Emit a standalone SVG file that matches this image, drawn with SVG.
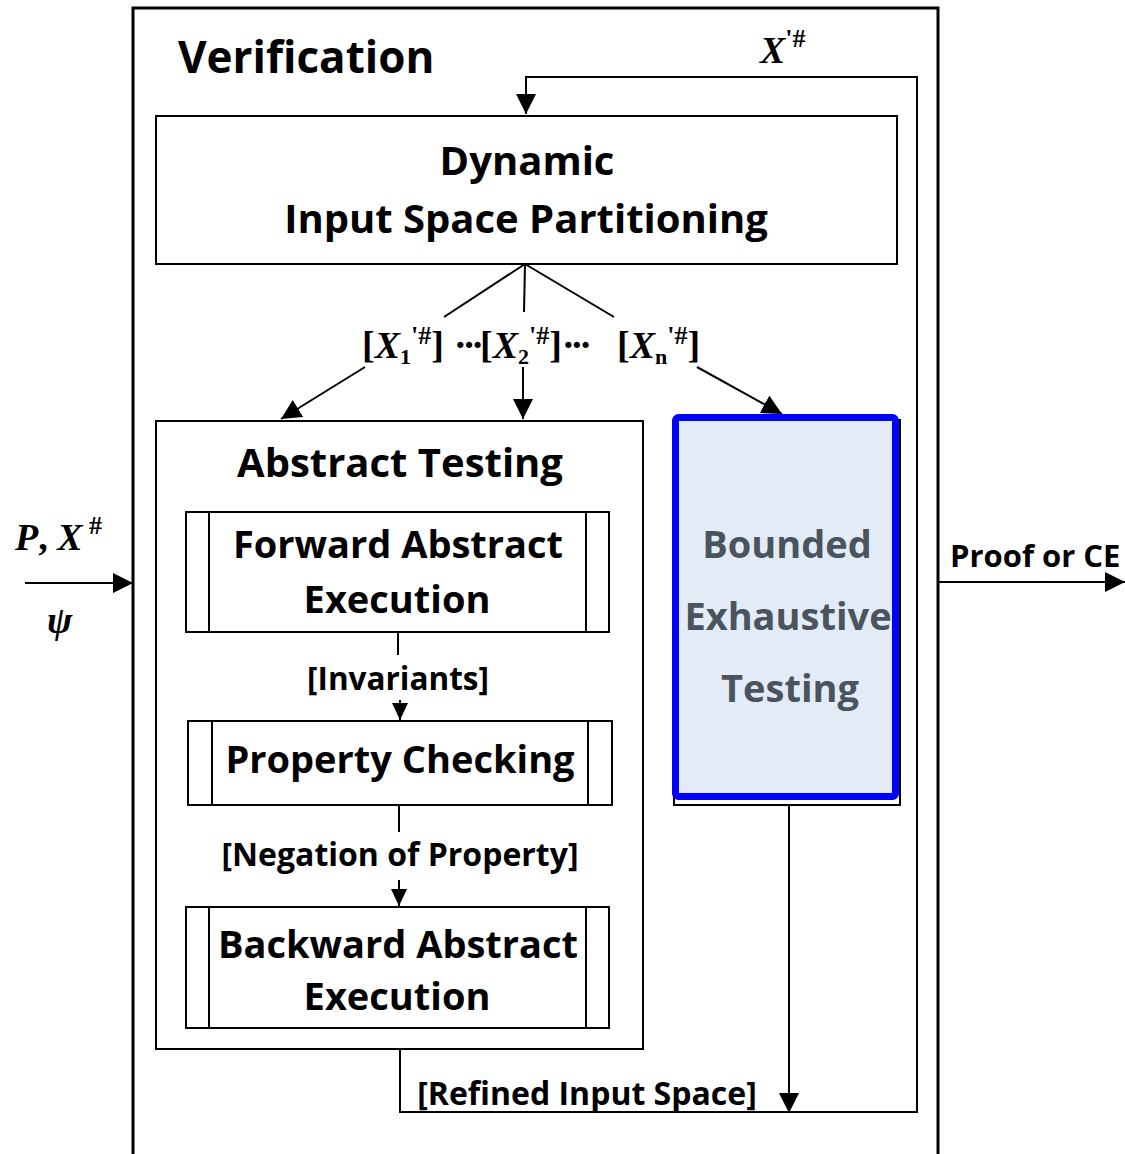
<svg xmlns="http://www.w3.org/2000/svg" width="1125" height="1154" viewBox="0 0 1125 1154">
<defs>
<marker id="ah" markerWidth="20" markerHeight="20" viewBox="0 0 20 20" refX="20" refY="10" orient="auto" markerUnits="userSpaceOnUse">
<path d="M0,0 L20,10 L0,20 Z" fill="#000"/>
</marker>
<marker id="ahs" markerWidth="17" markerHeight="17" viewBox="0 0 18 17" refX="18" refY="8.5" orient="auto" markerUnits="userSpaceOnUse">
<path d="M0,0 L18,8.5 L0,17 Z" fill="#000"/>
</marker>
</defs>
<style>
.box{fill:#fff;stroke:#000;stroke-width:2}
.ln{fill:none;stroke:#000;stroke-width:2}
.t{font-family:"Open Sans","Lato",sans-serif;font-weight:bold;fill:#000}
.m{font-family:"Liberation Serif","Times New Roman",serif;font-weight:bold;fill:#000}
.i{font-style:italic}
.g{fill:#4a535e}
</style>
<rect width="1125" height="1154" fill="#fff"/>
<g id="verification">
<rect x="133" y="8" width="805" height="1160" fill="none" stroke="#000" stroke-width="3"/>
<text class="t" x="178" y="73" font-size="44">Verification</text>
</g>
<g id="dynamic">
<rect class="box" x="156" y="116" width="741" height="148"/>
<text class="t" x="527" y="175" font-size="40" text-anchor="middle">Dynamic</text>
<text class="t" x="526" y="233" font-size="40" text-anchor="middle">Input Space Partitioning</text>
</g>
<g id="abstract-testing">
<rect class="box" x="156" y="421" width="487" height="628"/>
<text class="t" x="400" y="477" font-size="40" text-anchor="middle">Abstract Testing</text>
</g>
<g id="forward">
<rect class="box" x="186" y="512" width="423" height="120"/>
<line class="ln" x1="209" y1="512" x2="209" y2="632"/>
<line class="ln" x1="586" y1="512" x2="586" y2="632"/>
<text class="t" x="398" y="558" font-size="38" text-anchor="middle">Forward Abstract</text>
<text class="t" x="397" y="613" font-size="38" text-anchor="middle">Execution</text>
</g>
<g id="property">
<rect class="box" x="188" y="721" width="424" height="84"/>
<line class="ln" x1="212" y1="721" x2="212" y2="805"/>
<line class="ln" x1="588" y1="721" x2="588" y2="805"/>
<text class="t" x="400" y="773" font-size="38" text-anchor="middle">Property Checking</text>
</g>
<g id="backward">
<rect class="box" x="186" y="907" width="423" height="121"/>
<line class="ln" x1="209" y1="907" x2="209" y2="1028"/>
<line class="ln" x1="586" y1="907" x2="586" y2="1028"/>
<text class="t" x="398" y="958" font-size="38" text-anchor="middle">Backward Abstract</text>
<text class="t" x="397" y="1010" font-size="38" text-anchor="middle">Execution</text>
</g>
<g id="bounded">
<rect x="674" y="420" width="226" height="385" fill="none" stroke="#000" stroke-width="2"/>
<rect x="675.5" y="417.5" width="220" height="379" rx="3" fill="#e3ecf6" stroke="#0000ff" stroke-width="7"/>
<text class="t g" x="787" y="558" font-size="38" text-anchor="middle">Bounded</text>
<text class="t g" x="788" y="630" font-size="38" text-anchor="middle">Exhaustive</text>
<text class="t g" x="790" y="702" font-size="38" text-anchor="middle">Testing</text>
</g>
<g id="connectors">
<polyline class="ln" points="400,1049 400,1112 917,1112 917,77 526,77 526,114" marker-end="url(#ah)"/>
<line class="ln" x1="525" y1="264" x2="444" y2="317"/>
<line class="ln" x1="525" y1="264" x2="524" y2="312"/>
<line class="ln" x1="525" y1="264" x2="614" y2="317"/>
<line class="ln" x1="365" y1="367" x2="281" y2="419" marker-end="url(#ah)"/>
<line class="ln" x1="523" y1="367" x2="523" y2="419" marker-end="url(#ah)"/>
<line class="ln" x1="697" y1="367" x2="782" y2="414" marker-end="url(#ah)"/>
<line class="ln" x1="398" y1="632" x2="398" y2="655"/>
<line class="ln" x1="400" y1="700" x2="400" y2="720" marker-end="url(#ahs)"/>
<line class="ln" x1="399" y1="805" x2="399" y2="832"/>
<line class="ln" x1="399" y1="880" x2="399" y2="906" marker-end="url(#ahs)"/>
<line class="ln" x1="789" y1="805" x2="789" y2="1113" marker-end="url(#ah)"/>
<line class="ln" x1="25" y1="583" x2="133" y2="583" stroke-width="3" marker-end="url(#ah)"/>
<line class="ln" x1="938" y1="582" x2="1125" y2="582" stroke-width="3" marker-end="url(#ah)"/>
<text class="m i" x="760" y="63" font-size="38">X<tspan font-style="normal" font-size="26" dy="-16">'#</tspan></text>
<text class="m" x="362" y="358" font-size="38">[<tspan class="i">X</tspan><tspan font-size="22" dy="6">1</tspan><tspan font-size="26" dy="-20">'#</tspan><tspan dy="14">]</tspan></text>
<text class="m" x="454" y="358" font-size="38" letter-spacing="-4">···<tspan letter-spacing="0">[</tspan><tspan class="i" letter-spacing="0">X</tspan><tspan font-size="22" dy="6" letter-spacing="0">2</tspan><tspan font-size="26" dy="-20" letter-spacing="0">'#</tspan><tspan dy="14" letter-spacing="0">]</tspan>···</text>
<text class="m" x="617" y="358" font-size="38">[<tspan class="i">X</tspan><tspan font-size="22" dy="6">n</tspan><tspan font-size="26" dy="-20">'#</tspan><tspan dy="14">]</tspan></text>
<text class="t" x="398" y="690" font-size="31.5" text-anchor="middle">[Invariants]</text>
<text class="t" x="400" y="866" font-size="32" text-anchor="middle">[Negation of Property]</text>
<text class="t" x="587" y="1105" font-size="32" text-anchor="middle">[Refined Input Space]</text>
<text class="t" x="950" y="567" font-size="31">Proof or CE</text>
<text class="m i" x="15" y="550" font-size="38">P<tspan font-style="normal">, </tspan>X<tspan font-style="normal" font-size="26" dy="-16"> #</tspan></text>
<text class="m i" x="47" y="633" font-size="38">ψ</text>
</g>
</svg>
